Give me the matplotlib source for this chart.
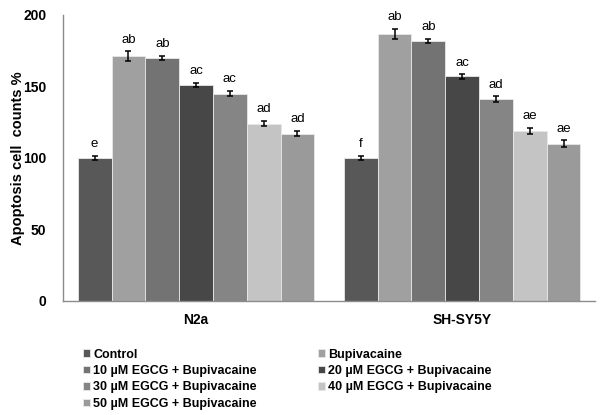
import matplotlib.pyplot as plt
import numpy as np

plt.rcParams["font.family"] = ["Liberation Sans", "DejaVu Sans"]

groups = ["N2a", "SH-SY5Y"]
treatments = [
    "Control",
    "Bupivacaine",
    "10 µM EGCG + Bupivacaine",
    "20 µM EGCG + Bupivacaine",
    "30 µM EGCG + Bupivacaine",
    "40 µM EGCG + Bupivacaine",
    "50 µM EGCG + Bupivacaine",
]
n2a_vals = [100, 171, 170, 151, 145, 124, 117]
n2a_err = [1.2, 3.5, 1.5, 1.5, 2, 2, 2]
n2a_letters = ["e", "ab", "ab", "ac", "ac", "ad", "ad"]
sh_vals = [100, 187, 182, 157, 141, 119, 110]
sh_err = [1.2, 3.5, 1.5, 1.5, 2, 2, 2.2]
sh_letters = ["f", "ab", "ab", "ac", "ad", "ae", "ae"]
colors = ["#585858", "#a0a0a0", "#737373", "#474747", "#858585", "#c4c4c4", "#9a9a9a"]

vals = np.array([n2a_vals, sh_vals])
errs = np.array([n2a_err, sh_err])
letters = [n2a_letters, sh_letters]

fig = plt.figure(figsize=(6, 4.15), dpi=100)
ax = fig.add_axes([0.105, 0.275, 0.887, 0.689])

x = np.arange(len(groups))
w = 0.127
handles = []
for i, t in enumerate(treatments):
    pos = x + (i - 3) * w
    b = ax.bar(pos, vals[:, i], w, color=colors[i], edgecolor="#e8e8e8",
               linewidth=0.6, label=t)
    handles.append(b)
    ax.errorbar(pos, vals[:, i], yerr=errs[:, i], fmt="none", ecolor="black",
                elinewidth=1.1, capsize=2.5, capthick=1.1)
    for g in range(len(groups)):
        ax.text(pos[g], vals[g, i] + errs[g, i] + 4, letters[g][i],
                ha="center", va="bottom", fontsize=9.5)

ax.set_xlim(-0.5, 1.5)
ax.set_ylim(0, 200)
ax.set_yticks([0, 50, 100, 150, 200])
ax.set_yticklabels(["0", "50", "100", "150", "200"], fontsize=10, fontweight="bold")
ax.set_xticks(x)
ax.set_xticklabels(groups, fontsize=10, fontweight="bold")
ax.tick_params(length=0, pad=12)
ax.tick_params(axis="x", pad=9)
ax.set_ylabel("Apoptosis cell  counts %", fontsize=10.5, fontweight="bold")
ax.yaxis.set_label_coords(-0.072, 0.5)
for s in ["top", "right"]:
    ax.spines[s].set_visible(False)
for s in ["left", "bottom"]:
    ax.spines[s].set_color("#8c8c8c")
    ax.spines[s].set_linewidth(1.0)

order = [0, 2, 4, 6, 1, 3, 5]
fig.legend([handles[k] for k in order], [treatments[k] for k in order],
           ncol=2, loc="upper left", bbox_to_anchor=(0.13, 0.172),
           frameon=False, prop={"size": 9, "weight": "bold"},
           handlelength=0.55, handleheight=0.55, handletextpad=0.25,
           columnspacing=4.9, labelspacing=0.35, borderaxespad=0)

fig.savefig("out.png", dpi=100)
